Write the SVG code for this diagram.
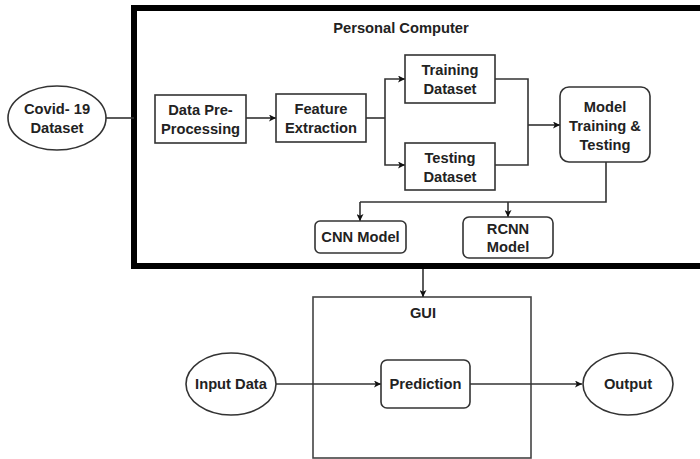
<svg xmlns="http://www.w3.org/2000/svg" width="700" height="459" viewBox="0 0 700 459">
  <style>
    .box { fill: #fff; stroke: #333; stroke-width: 1.6; }
    .oval { fill: #fff; stroke: #333; stroke-width: 1.6; }
    .lbl { font-family: "Liberation Sans", Arial, sans-serif; font-weight: bold; font-size: 14.7px; fill: #222; text-anchor: middle; }
    .wire { fill: none; stroke: #333; stroke-width: 1.6; }
    .arrow { fill: none; stroke: #333; stroke-width: 1.6; marker-end: url(#head); }
  </style>
  <defs>
    <marker id="head" viewBox="0 0 10 10" refX="10" refY="5" markerWidth="7" markerHeight="7" markerUnits="userSpaceOnUse" orient="auto">
      <path d="M0,0 L10,5 L0,10 L2.5,5 Z" fill="#111"/>
    </marker>
  </defs>
  <rect width="700" height="459" fill="#fff"/>

  <!-- Personal computer container -->
  <g id="pc">
    <path d="M710,8 H134 V266 H710" fill="none" stroke="#000" stroke-width="6"/>
    <text class="lbl" x="401" y="33">Personal Computer</text>
  </g>

  <!-- GUI container -->
  <g id="gui">
    <rect x="313" y="297" width="218" height="161" fill="none" stroke="#444" stroke-width="1.6"/>
    <text class="lbl" x="423" y="318">GUI</text>
  </g>

  <!-- Connectors -->
  <g id="connectors">
    <path class="wire" d="M105,118 H134"/>
    <path class="arrow" d="M246,118 H276"/>
    <path class="wire" d="M366,118 H385"/>
    <path class="arrow" d="M385,118 V79 H405"/>
    <path class="arrow" d="M385,118 V165 H405"/>
    <path class="wire" d="M495,79 H528 V165 H495"/>
    <path class="arrow" d="M528,125 H560"/>
    <path class="wire" d="M606,162 V202 H360"/>
    <path class="arrow" d="M360,202 V221"/>
    <path class="arrow" d="M508,202 V217"/>
    <path class="arrow" d="M423,269 V297"/>
    <path class="arrow" d="M276,384 H381"/>
    <path class="arrow" d="M470,384 H582"/>
  </g>

  <g id="covid">
    <ellipse class="oval" cx="57" cy="118" rx="49" ry="32"/>
    <text class="lbl" x="57" y="114">Covid- 19</text>
    <text class="lbl" x="57" y="133">Dataset</text>
  </g>

  <g id="preprocess">
    <rect class="box" x="155" y="95" width="91" height="48"/>
    <text class="lbl" x="200.5" y="115">Data Pre-</text>
    <text class="lbl" x="200.5" y="134">Processing</text>
  </g>

  <g id="feature">
    <rect class="box" x="276" y="94" width="90" height="48"/>
    <text class="lbl" x="321" y="114">Feature</text>
    <text class="lbl" x="321" y="133">Extraction</text>
  </g>

  <g id="training">
    <rect class="box" x="405" y="55" width="90" height="48"/>
    <text class="lbl" x="450" y="75">Training</text>
    <text class="lbl" x="450" y="94">Dataset</text>
  </g>

  <g id="testing">
    <rect class="box" x="405" y="143" width="90" height="47"/>
    <text class="lbl" x="450" y="163">Testing</text>
    <text class="lbl" x="450" y="182">Dataset</text>
  </g>

  <g id="model">
    <rect class="box" x="560" y="87" width="90" height="75" rx="9"/>
    <text class="lbl" x="605" y="112">Model</text>
    <text class="lbl" x="605" y="131">Training &amp;</text>
    <text class="lbl" x="605" y="150">Testing</text>
  </g>

  <g id="cnn">
    <rect class="box" x="315" y="221" width="91" height="32" rx="5"/>
    <text class="lbl" x="360.5" y="242">CNN Model</text>
  </g>

  <g id="rcnn">
    <rect class="box" x="463" y="217" width="90" height="41" rx="6"/>
    <text class="lbl" x="508" y="234">RCNN</text>
    <text class="lbl" x="508" y="252">Model</text>
  </g>

  <g id="input">
    <ellipse class="oval" cx="231" cy="384" rx="45" ry="31"/>
    <text class="lbl" x="231" y="389">Input Data</text>
  </g>

  <g id="prediction">
    <rect class="box" x="381" y="360" width="89" height="48" rx="6"/>
    <text class="lbl" x="425.5" y="389">Prediction</text>
  </g>

  <g id="output">
    <ellipse class="oval" cx="628" cy="384" rx="45" ry="31"/>
    <text class="lbl" x="628" y="389">Output</text>
  </g>
</svg>
